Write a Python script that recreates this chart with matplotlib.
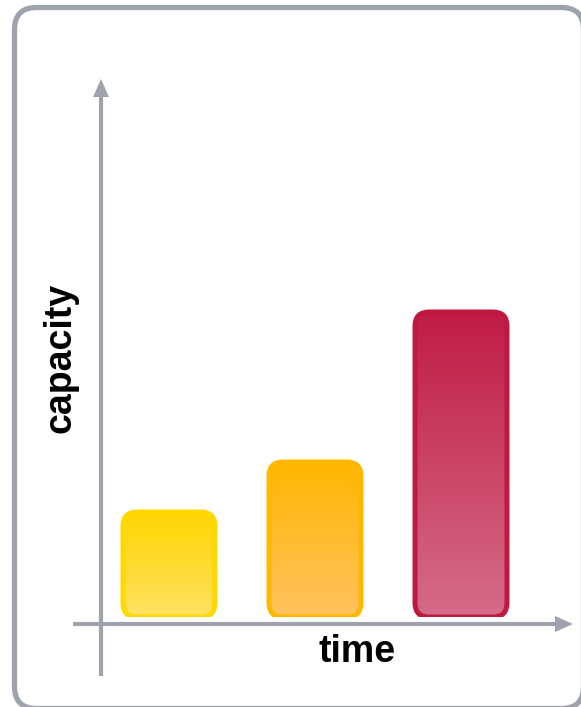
import numpy as np
import matplotlib
matplotlib.use('Agg')
import matplotlib.pyplot as plt
from matplotlib.patches import FancyBboxPatch, FancyArrow
from matplotlib.colors import LinearSegmentedColormap

# data
categories = ['A', 'B', 'C']
capacity = [1.05, 1.55, 3.05]
top_colors = ['#FFD600', '#FFB600', '#C01C44']
bottom_colors = ['#FFE163', '#FFC360', '#D56C8A']
edge_colors = ['#FFD800', '#FFB800', '#C0193F']

W, H = 581, 707
grey = '#9EA3AD'

fig = plt.figure(figsize=(W / 100, H / 100), dpi=100)

# background axes in pixel coords for frame and arrows
bg = fig.add_axes([0, 0, 1, 1])
bg.set_xlim(0, W)
bg.set_ylim(H, 0)
bg.axis('off')

# outer rounded frame, cropped at right and bottom like the original
frame = FancyBboxPatch((14.5, 7.5), 569, 701,
                       boxstyle='round,pad=0,rounding_size=22',
                       fc='white', ec=grey, lw=3.8, clip_on=True)
bg.add_patch(frame)

# axis arrows
bg.plot([101, 101], [676, 96], color=grey, lw=3, solid_capstyle='butt')
bg.add_patch(FancyArrow(101, 98, 0, -1, width=0, head_width=16, head_length=18,
                        length_includes_head=False, color=grey, lw=0))
bg.plot([73, 556], [624, 624], color=grey, lw=3, solid_capstyle='butt')
bg.add_patch(FancyArrow(554, 624, 1, 0, width=0, head_width=16, head_length=18,
                        length_includes_head=False, color=grey, lw=0))

bg.text(60, 358, 'capacity', rotation=90, ha='center', va='center',
        fontsize=27, fontweight='bold', family='Liberation Sans')
bg.text(357, 652, 'time', ha='center', va='center',
        fontsize=27, fontweight='bold', family='Liberation Sans')

# bar axes: x unit = 146 px, y unit = 100 px, baseline at pixel 617
x0_px, x1_px = 80, 560
y0_px, y1_px = 617, 60
ax = fig.add_axes([x0_px / W, (H - y0_px) / H, (x1_px - x0_px) / W, (y0_px - y1_px) / H])
xunit, yunit = 146, 100
ax.set_xlim((x0_px - 169) / xunit, (x1_px - 169) / xunit)
ax.set_ylim(0, (y0_px - y1_px) / yunit)
ax.axis('off')
ax.patch.set_alpha(0)

width = 0.63
r_px = 14
for i, (h, ct, cb, ce) in enumerate(zip(capacity, top_colors, bottom_colors, edge_colors)):
    x = i - width / 2
    bar = FancyBboxPatch((x, 0), width, h,
                         boxstyle=f'round,pad=0,rounding_size={r_px / xunit}',
                         mutation_aspect=xunit / yunit,
                         fc='none', ec=ce, lw=3.6, zorder=3)
    ax.add_patch(bar)
    cmap = LinearSegmentedColormap.from_list('g', [cb, ct])
    grad = np.linspace(0, 1, 256).reshape(-1, 1)
    im = ax.imshow(grad, cmap=cmap, aspect='auto', origin='lower',
                   extent=[x, x + width, 0, h], zorder=2)
    im.set_clip_path(bar)

fig.savefig('out.png', dpi=100)
